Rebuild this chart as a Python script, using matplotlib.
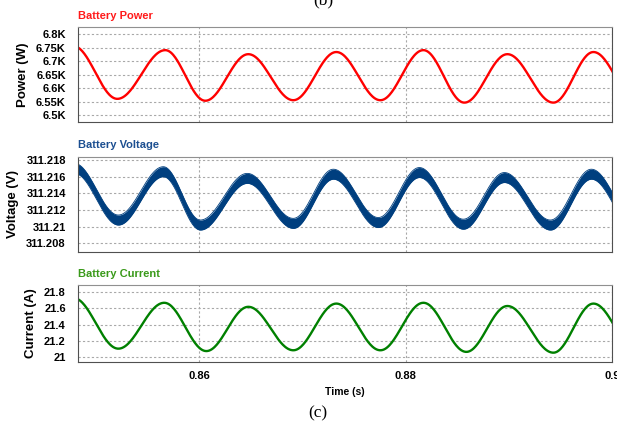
"""
Battery power / voltage / current ripple, three stacked PSIM-style panels.
Writes : out.png
"""

import numpy as np
import matplotlib.pyplot as plt
from matplotlib.ticker import FuncFormatter

plt.rcParams['font.family'] = ['Liberation Sans', 'DejaVu Sans']

# extrema (time in s, value); first/last sit just outside the window
P_T = [0.8478, 0.85205, 0.85670, 0.86058, 0.86475, 0.86911, 0.87328, 0.87755,
       0.88172, 0.88569, 0.88986, 0.89432, 0.89820, 0.90250]
P_W = [6756, 6560, 6741, 6553, 6726, 6555, 6734, 6555,
       6741, 6546, 6726, 6546, 6734, 6548]

V_T = [0.8479, 0.85215, 0.85651, 0.86010, 0.86465, 0.86911, 0.87299, 0.87735,
       0.88133, 0.88559, 0.88957, 0.89403, 0.89800, 0.90230]
V_V = [311.2170, 311.2108, 311.2166, 311.2102, 311.2158, 311.2104, 311.2163, 311.2105,
       311.2165, 311.2103, 311.2159, 311.2102, 311.2163, 311.2102]
V_BAND = 0.0006   # half-width of the switching-noise band

I_T = [0.8478, 0.85215, 0.85660, 0.86068, 0.86475, 0.86911, 0.87328, 0.87755,
       0.88172, 0.88588, 0.88986, 0.89432, 0.89820, 0.90250]
I_A = [21.73, 21.10, 21.67, 21.07, 21.62, 21.08, 21.66, 21.08,
       21.67, 21.06, 21.63, 21.05, 21.66, 21.05]

X_TICKS = [0.86, 0.88, 0.90]
P_TICKS = [6500, 6550, 6600, 6650, 6700, 6750, 6800]
V_TICKS = [311.208, 311.210, 311.212, 311.214, 311.216, 311.218]
I_TICKS = [21.0, 21.2, 21.4, 21.6, 21.8]

XLIM = (0.84827, 0.9)


def smooth(ts, vs, n=60):
    """half-cosine between consecutive extrema"""
    xs, ys = [], []
    for i in range(len(ts) - 1):
        u = np.linspace(0, 1, n, endpoint=False)
        xs.append(ts[i] + (ts[i + 1] - ts[i]) * u)
        ys.append(vs[i] + (vs[i + 1] - vs[i]) * (1 - np.cos(np.pi * u)) / 2)
    xs.append([ts[-1]]); ys.append([vs[-1]])
    return np.concatenate(xs), np.concatenate(ys)


W, H = 617, 421
fig = plt.figure(figsize=(W / 100, H / 100), dpi=100)

def frac_axes(top_px, bot_px):
    l, r = 78.3 / W, 612 / W
    return fig.add_axes([l, 1 - bot_px / H, r - l, (bot_px - top_px) / H])

ax_p = frac_axes(27, 122)
ax_v = frac_axes(156.7, 251.7)
ax_i = frac_axes(285, 361.7)

t, p = smooth(P_T, P_W)
ax_p.plot(t, p, color='#ff0000', lw=1.7)

t, v = smooth(V_T, V_V)
ax_v.fill_between(t, v - V_BAND, v + V_BAND, color='#003f7f', lw=0)
ax_v.plot(t, v + V_BAND, color='#003f7f', lw=0.6)
ax_v.plot(t, v - V_BAND, color='#003f7f', lw=0.6)

t, c = smooth(I_T, I_A)
ax_i.plot(t, c, color='#008000', lw=1.7)

setup = [
    (ax_p, P_TICKS, (6474, 6827), 'Power (W)', 'Battery Power', '#ff1a1a',
     lambda v, _: f'{v / 1000:g}K'),
    (ax_v, V_TICKS, (311.2070, 311.2184), 'Voltage (V)', 'Battery Voltage', '#1c4f91',
     lambda v, _: f'{v:.3f}'.rstrip('0').rstrip('.')),
    (ax_i, I_TICKS, (20.938, 21.891), 'Current (A)', 'Battery Current', '#3a9a1a',
     lambda v, _: f'{v:g}'),
]

for ax, yt, ylim, ylab, title, tcol, fmt in setup:
    ax.set_xlim(*XLIM)
    ax.set_ylim(*ylim)
    ax.set_yticks(yt)
    ax.set_xticks(X_TICKS)
    ax.yaxis.set_major_formatter(FuncFormatter(fmt))
    ax.grid(True, color='#a8a8a8', ls=(0, (2, 2)), lw=0.8)
    ax.set_axisbelow(True)
    ax.tick_params(length=0, pad=9, labelsize=8)
    for lbl in ax.get_yticklabels() + ax.get_xticklabels():
        lbl.set_fontweight('bold')
    for side in ('left', 'bottom', 'right'):
        ax.spines[side].set_color('#505050')
    ax.spines['top'].set_color('#909090')
    ax.set_ylabel(ylab, fontsize=9.5, fontweight='bold', labelpad=5)
    ax.set_title(title, loc='left', fontsize=8, fontweight='bold', color=tcol, pad=6)

ax_p.tick_params(labelbottom=False)
ax_v.tick_params(labelbottom=False)
ax_i.tick_params(axis='x', pad=7)
ax_i.xaxis.set_major_formatter(FuncFormatter(lambda v, _: f'{v:g}'))
ax_i.set_xlabel('Time (s)', fontsize=7.5, fontweight='bold', labelpad=4)

fig.text(318 / W, 1 - 413 / H, '(c)', family=['Liberation Serif', 'DejaVu Serif'],
         fontsize=12.5, ha='center', va='center')
fig.text(323 / W, 1 - 4 / H, '(b)', family=['Liberation Serif', 'DejaVu Serif'],
         fontsize=12.5, ha='center', va='baseline')

plt.savefig('out.png', dpi=100)
plt.close()
